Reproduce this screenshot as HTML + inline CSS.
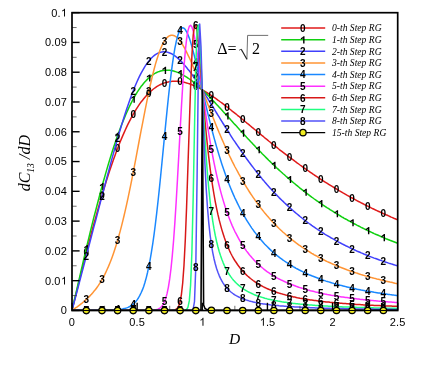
<!DOCTYPE html>
<html><head><meta charset="utf-8"><title>chart</title>
<style>html,body{margin:0;padding:0;background:#fff}svg{display:block;will-change:transform}text{font-family:"Liberation Sans",sans-serif}.s{font-family:"Liberation Serif",serif;font-style:italic}.r{font-family:"Liberation Serif",serif}</style></head>
<body>
<svg width="436" height="388" viewBox="0 0 436 388">
<rect width="436" height="388" fill="#fff"/>
<defs><clipPath id="c"><rect x="72.0" y="12.7" width="325.7" height="298.2"/></clipPath></defs>
<g>
<polyline clip-path="url(#c)" points="72.0,310.4 73.3,305.1 74.6,299.8 75.9,294.5 77.2,289.2 78.5,283.9 79.8,278.6 81.1,273.4 82.4,268.2 83.7,263.0 85.0,257.8 86.3,252.7 87.6,247.6 88.9,242.6 90.2,237.6 91.5,232.7 92.8,227.8 94.1,222.9 95.5,218.2 96.8,213.5 98.1,208.8 99.4,204.2 100.7,199.7 102.0,195.3 103.3,191.0 104.6,186.7 105.9,182.5 107.2,178.3 108.5,174.3 109.8,170.3 111.1,166.5 112.4,162.7 113.7,159.0 115.0,155.4 116.3,151.8 117.6,148.4 118.9,145.0 120.2,141.8 121.5,138.6 122.8,135.6 124.1,132.6 125.4,129.7 126.7,126.9 128.0,124.2 129.3,121.6 130.6,119.1 131.9,116.6 133.2,114.3 134.5,112.1 135.8,109.9 137.1,107.8 138.4,105.8 139.7,103.9 141.0,102.1 142.4,100.4 143.7,98.8 145.0,97.2 146.3,95.7 147.6,94.3 148.9,93.0 150.2,91.8 151.5,90.6 152.8,89.5 154.1,88.5 155.4,87.6 156.7,86.7 158.0,85.9 159.3,85.2 160.6,84.5 161.9,83.9 163.2,83.4 164.5,82.9 165.8,82.5 167.1,82.2 168.4,81.9 169.7,81.6 171.0,81.4 172.3,81.3 173.6,81.2 174.9,81.2 176.2,81.2 177.5,81.3 178.8,81.4 180.1,81.6 181.4,81.8 182.7,82.0 184.0,82.3 185.3,82.6 186.6,83.0 187.9,83.4 189.3,83.8 190.6,84.3 191.9,84.8 193.2,85.3 194.5,85.9 195.8,86.5 197.1,87.1 198.4,87.8 199.7,88.4 201.0,89.1 202.3,89.9 203.6,90.6 204.9,91.4 206.2,92.2 207.5,93.0 208.8,93.8 210.1,94.6 211.4,95.5 212.7,96.4 214.0,97.3 215.3,98.2 216.6,99.1 217.9,100.1 219.2,101.0 220.5,102.0 221.8,102.9 223.1,103.9 224.4,104.9 225.7,105.9 227.0,106.9 228.3,108.0 229.6,109.0 230.9,110.0 232.2,111.1 233.5,112.1 234.8,113.1 236.2,114.2 237.5,115.3 238.8,116.3 240.1,117.4 241.4,118.5 242.7,119.5 244.0,120.6 245.3,121.7 246.6,122.8 247.9,123.8 249.2,124.9 250.5,126.0 251.8,127.1 253.1,128.1 254.4,129.2 255.7,130.3 257.0,131.4 258.3,132.4 259.6,133.5 260.9,134.6 262.2,135.7 263.5,136.7 264.8,137.8 266.1,138.8 267.4,139.9 268.7,141.0 270.0,142.0 271.3,143.1 272.6,144.1 273.9,145.1 275.2,146.2 276.5,147.2 277.8,148.2 279.1,149.3 280.4,150.3 281.8,151.3 283.1,152.3 284.4,153.3 285.7,154.3 287.0,155.3 288.3,156.3 289.6,157.3 290.9,158.3 292.2,159.2 293.5,160.2 294.8,161.2 296.1,162.1 297.4,163.1 298.7,164.0 300.0,165.0 301.3,165.9 302.6,166.8 303.9,167.8 305.2,168.7 306.5,169.6 307.8,170.5 309.1,171.4 310.4,172.3 311.7,173.2 313.0,174.1 314.3,175.0 315.6,175.8 316.9,176.7 318.2,177.6 319.5,178.4 320.8,179.3 322.1,180.1 323.4,181.0 324.7,181.8 326.0,182.6 327.3,183.4 328.7,184.3 330.0,185.1 331.3,185.9 332.6,186.7 333.9,187.5 335.2,188.2 336.5,189.0 337.8,189.8 339.1,190.6 340.4,191.3 341.7,192.1 343.0,192.9 344.3,193.6 345.6,194.3 346.9,195.1 348.2,195.8 349.5,196.5 350.8,197.3 352.1,198.0 353.4,198.7 354.7,199.4 356.0,200.1 357.3,200.8 358.6,201.5 359.9,202.1 361.2,202.8 362.5,203.5 363.8,204.2 365.1,204.8 366.4,205.5 367.7,206.1 369.0,206.8 370.3,207.4 371.6,208.1 372.9,208.7 374.2,209.3 375.6,210.0 376.9,210.6 378.2,211.2 379.5,211.8 380.8,212.4 382.1,213.0 383.4,213.6 384.7,214.2 386.0,214.8 387.3,215.3 388.6,215.9 389.9,216.5 391.2,217.1 392.5,217.6 393.8,218.2 395.1,218.7 396.4,219.3 397.7,219.8" fill="none" stroke="#e01a1a" stroke-width="1.5" stroke-linejoin="round"/>
<g font-size="10.0" font-weight="bold" text-anchor="middle" fill="#000"><text x="86.3" y="256.4">0</text><text x="102.0" y="199.0">0</text><text x="117.6" y="152.1">0</text><text x="133.2" y="118.0">0</text><text x="148.9" y="96.7">0</text><text x="164.5" y="86.6">0</text><text x="180.1" y="85.3">0</text><text x="195.8" y="90.2">0</text><text x="211.4" y="99.2">0</text><text x="227.0" y="110.6">0</text><text x="242.7" y="123.2">0</text><text x="258.3" y="136.1">0</text><text x="273.9" y="148.8">0</text><text x="289.6" y="161.0">0</text><text x="305.2" y="172.4">0</text><text x="320.8" y="183.0">0</text><text x="336.5" y="192.7">0</text><text x="352.1" y="201.7">0</text><text x="367.7" y="209.8">0</text><text x="383.4" y="217.3">0</text></g>
<polyline clip-path="url(#c)" points="72.0,310.4 73.3,304.7 74.6,299.0 75.9,293.3 77.2,287.7 78.5,282.0 79.8,276.3 81.1,270.7 82.4,265.1 83.7,259.5 85.0,254.0 86.3,248.5 87.6,243.0 88.9,237.6 90.2,232.2 91.5,226.9 92.8,221.6 94.1,216.4 95.5,211.3 96.8,206.2 98.1,201.2 99.4,196.2 100.7,191.3 102.0,186.5 103.3,181.8 104.6,177.2 105.9,172.6 107.2,168.1 108.5,163.7 109.8,159.4 111.1,155.2 112.4,151.1 113.7,147.1 115.0,143.2 116.3,139.3 117.6,135.6 118.9,132.0 120.2,128.5 121.5,125.1 122.8,121.8 124.1,118.6 125.4,115.5 126.7,112.5 128.0,109.6 129.3,106.8 130.6,104.1 131.9,101.6 133.2,99.1 134.5,96.8 135.8,94.5 137.1,92.4 138.4,90.4 139.7,88.5 141.0,86.6 142.4,84.9 143.7,83.3 145.0,81.8 146.3,80.4 147.6,79.1 148.9,77.9 150.2,76.7 151.5,75.7 152.8,74.8 154.1,73.9 155.4,73.2 156.7,72.5 158.0,71.9 159.3,71.5 160.6,71.0 161.9,70.7 163.2,70.5 164.5,70.3 165.8,70.2 167.1,70.2 168.4,70.2 169.7,70.3 171.0,70.5 172.3,70.8 173.6,71.1 174.9,71.4 176.2,71.9 177.5,72.4 178.8,72.9 180.1,73.5 181.4,74.1 182.7,74.8 184.0,75.6 185.3,76.4 186.6,77.2 187.9,78.0 189.3,79.0 190.6,79.9 191.9,80.9 193.2,81.9 194.5,83.0 195.8,84.0 197.1,85.1 198.4,86.3 199.7,87.5 201.0,88.6 202.3,89.9 203.6,91.1 204.9,92.4 206.2,93.6 207.5,94.9 208.8,96.2 210.1,97.6 211.4,98.9 212.7,100.3 214.0,101.6 215.3,103.0 216.6,104.4 217.9,105.8 219.2,107.2 220.5,108.6 221.8,110.0 223.1,111.5 224.4,112.9 225.7,114.3 227.0,115.8 228.3,117.2 229.6,118.6 230.9,120.1 232.2,121.5 233.5,123.0 234.8,124.4 236.2,125.8 237.5,127.3 238.8,128.7 240.1,130.2 241.4,131.6 242.7,133.0 244.0,134.4 245.3,135.8 246.6,137.3 247.9,138.7 249.2,140.1 250.5,141.5 251.8,142.8 253.1,144.2 254.4,145.6 255.7,147.0 257.0,148.3 258.3,149.7 259.6,151.0 260.9,152.3 262.2,153.7 263.5,155.0 264.8,156.3 266.1,157.6 267.4,158.9 268.7,160.2 270.0,161.4 271.3,162.7 272.6,164.0 273.9,165.2 275.2,166.4 276.5,167.7 277.8,168.9 279.1,170.1 280.4,171.3 281.8,172.5 283.1,173.7 284.4,174.8 285.7,176.0 287.0,177.1 288.3,178.3 289.6,179.4 290.9,180.5 292.2,181.6 293.5,182.7 294.8,183.8 296.1,184.9 297.4,185.9 298.7,187.0 300.0,188.1 301.3,189.1 302.6,190.1 303.9,191.1 305.2,192.2 306.5,193.2 307.8,194.1 309.1,195.1 310.4,196.1 311.7,197.1 313.0,198.0 314.3,199.0 315.6,199.9 316.9,200.8 318.2,201.7 319.5,202.6 320.8,203.5 322.1,204.4 323.4,205.3 324.7,206.2 326.0,207.0 327.3,207.9 328.7,208.7 330.0,209.6 331.3,210.4 332.6,211.2 333.9,212.0 335.2,212.9 336.5,213.7 337.8,214.4 339.1,215.2 340.4,216.0 341.7,216.8 343.0,217.5 344.3,218.3 345.6,219.0 346.9,219.7 348.2,220.5 349.5,221.2 350.8,221.9 352.1,222.6 353.4,223.3 354.7,224.0 356.0,224.7 357.3,225.4 358.6,226.0 359.9,226.7 361.2,227.4 362.5,228.0 363.8,228.6 365.1,229.3 366.4,229.9 367.7,230.5 369.0,231.2 370.3,231.8 371.6,232.4 372.9,233.0 374.2,233.6 375.6,234.2 376.9,234.7 378.2,235.3 379.5,235.9 380.8,236.5 382.1,237.0 383.4,237.6 384.7,238.1 386.0,238.7 387.3,239.2 388.6,239.7 389.9,240.3 391.2,240.8 392.5,241.3 393.8,241.8 395.1,242.3 396.4,242.8 397.7,243.3" fill="none" stroke="#10d010" stroke-width="1.5" stroke-linejoin="round"/>
<g font-size="10.0" font-weight="bold" text-anchor="middle" fill="#000"><path transform="translate(83.55 252.18) scale(10.00 -10.00)" d="M.44 0H.3V.525Q.22 .455 .075 .405V.53Q.15 .555 .235 .62Q.32 .69 .35 .716H.44Z"/><path transform="translate(99.18 190.23) scale(10.00 -10.00)" d="M.44 0H.3V.525Q.22 .455 .075 .405V.53Q.15 .555 .235 .62Q.32 .69 .35 .716H.44Z"/><path transform="translate(114.82 139.33) scale(10.00 -10.00)" d="M.44 0H.3V.525Q.22 .455 .075 .405V.53Q.15 .555 .235 .62Q.32 .69 .35 .716H.44Z"/><path transform="translate(130.45 102.82) scale(10.00 -10.00)" d="M.44 0H.3V.525Q.22 .455 .075 .405V.53Q.15 .555 .235 .62Q.32 .69 .35 .716H.44Z"/><path transform="translate(146.09 81.55) scale(10.00 -10.00)" d="M.44 0H.3V.525Q.22 .455 .075 .405V.53Q.15 .555 .235 .62Q.32 .69 .35 .716H.44Z"/><path transform="translate(161.72 74.00) scale(10.00 -10.00)" d="M.44 0H.3V.525Q.22 .455 .075 .405V.53Q.15 .555 .235 .62Q.32 .69 .35 .716H.44Z"/><path transform="translate(177.35 77.19) scale(10.00 -10.00)" d="M.44 0H.3V.525Q.22 .455 .075 .405V.53Q.15 .555 .235 .62Q.32 .69 .35 .716H.44Z"/><path transform="translate(192.99 87.74) scale(10.00 -10.00)" d="M.44 0H.3V.525Q.22 .455 .075 .405V.53Q.15 .555 .235 .62Q.32 .69 .35 .716H.44Z"/><path transform="translate(208.62 102.60) scale(10.00 -10.00)" d="M.44 0H.3V.525Q.22 .455 .075 .405V.53Q.15 .555 .235 .62Q.32 .69 .35 .716H.44Z"/><path transform="translate(224.25 119.46) scale(10.00 -10.00)" d="M.44 0H.3V.525Q.22 .455 .075 .405V.53Q.15 .555 .235 .62Q.32 .69 .35 .716H.44Z"/><path transform="translate(239.89 136.71) scale(10.00 -10.00)" d="M.44 0H.3V.525Q.22 .455 .075 .405V.53Q.15 .555 .235 .62Q.32 .69 .35 .716H.44Z"/><path transform="translate(255.52 153.37) scale(10.00 -10.00)" d="M.44 0H.3V.525Q.22 .455 .075 .405V.53Q.15 .555 .235 .62Q.32 .69 .35 .716H.44Z"/><path transform="translate(271.15 168.91) scale(10.00 -10.00)" d="M.44 0H.3V.525Q.22 .455 .075 .405V.53Q.15 .555 .235 .62Q.32 .69 .35 .716H.44Z"/><path transform="translate(286.79 183.09) scale(10.00 -10.00)" d="M.44 0H.3V.525Q.22 .455 .075 .405V.53Q.15 .555 .235 .62Q.32 .69 .35 .716H.44Z"/><path transform="translate(302.42 195.85) scale(10.00 -10.00)" d="M.44 0H.3V.525Q.22 .455 .075 .405V.53Q.15 .555 .235 .62Q.32 .69 .35 .716H.44Z"/><path transform="translate(318.05 207.24) scale(10.00 -10.00)" d="M.44 0H.3V.525Q.22 .455 .075 .405V.53Q.15 .555 .235 .62Q.32 .69 .35 .716H.44Z"/><path transform="translate(333.69 217.35) scale(10.00 -10.00)" d="M.44 0H.3V.525Q.22 .455 .075 .405V.53Q.15 .555 .235 .62Q.32 .69 .35 .716H.44Z"/><path transform="translate(349.32 226.31) scale(10.00 -10.00)" d="M.44 0H.3V.525Q.22 .455 .075 .405V.53Q.15 .555 .235 .62Q.32 .69 .35 .716H.44Z"/><path transform="translate(364.96 234.24) scale(10.00 -10.00)" d="M.44 0H.3V.525Q.22 .455 .075 .405V.53Q.15 .555 .235 .62Q.32 .69 .35 .716H.44Z"/><path transform="translate(380.59 241.27) scale(10.00 -10.00)" d="M.44 0H.3V.525Q.22 .455 .075 .405V.53Q.15 .555 .235 .62Q.32 .69 .35 .716H.44Z"/></g>
<polyline clip-path="url(#c)" points="72.0,310.4 73.3,305.5 74.6,300.6 75.9,295.7 77.2,290.7 78.5,285.8 79.8,280.8 81.1,275.9 82.4,270.9 83.7,266.0 85.0,261.0 86.3,256.1 87.6,251.1 88.9,246.1 90.2,241.1 91.5,236.1 92.8,231.1 94.1,226.1 95.5,221.1 96.8,216.1 98.1,211.1 99.4,206.1 100.7,201.1 102.0,196.2 103.3,191.2 104.6,186.2 105.9,181.3 107.2,176.4 108.5,171.6 109.8,166.7 111.1,161.9 112.4,157.1 113.7,152.4 115.0,147.8 116.3,143.2 117.6,138.6 118.9,134.1 120.2,129.7 121.5,125.4 122.8,121.2 124.1,117.0 125.4,113.0 126.7,109.0 128.0,105.2 129.3,101.4 130.6,97.8 131.9,94.3 133.2,90.9 134.5,87.6 135.8,84.5 137.1,81.5 138.4,78.6 139.7,75.9 141.0,73.3 142.4,70.9 143.7,68.6 145.0,66.4 146.3,64.4 147.6,62.6 148.9,60.9 150.2,59.4 151.5,58.0 152.8,56.7 154.1,55.6 155.4,54.6 156.7,53.8 158.0,53.1 159.3,52.6 160.6,52.2 161.9,51.9 163.2,51.8 164.5,51.8 165.8,51.9 167.1,52.1 168.4,52.5 169.7,53.0 171.0,53.5 172.3,54.2 173.6,55.0 174.9,55.9 176.2,56.9 177.5,57.9 178.8,59.1 180.1,60.3 181.4,61.6 182.7,63.0 184.0,64.4 185.3,66.0 186.6,67.5 187.9,69.2 189.3,70.8 190.6,72.6 191.9,74.4 193.2,76.2 194.5,78.0 195.8,79.9 197.1,81.9 198.4,83.8 199.7,85.8 201.0,87.8 202.3,89.9 203.6,91.9 204.9,94.0 206.2,96.1 207.5,98.2 208.8,100.3 210.1,102.4 211.4,104.5 212.7,106.6 214.0,108.7 215.3,110.8 216.6,113.0 217.9,115.1 219.2,117.2 220.5,119.3 221.8,121.4 223.1,123.5 224.4,125.5 225.7,127.6 227.0,129.7 228.3,131.7 229.6,133.7 230.9,135.8 232.2,137.8 233.5,139.8 234.8,141.7 236.2,143.7 237.5,145.6 238.8,147.5 240.1,149.4 241.4,151.3 242.7,153.2 244.0,155.1 245.3,156.9 246.6,158.7 247.9,160.5 249.2,162.3 250.5,164.0 251.8,165.7 253.1,167.4 254.4,169.1 255.7,170.8 257.0,172.5 258.3,174.1 259.6,175.7 260.9,177.3 262.2,178.9 263.5,180.4 264.8,182.0 266.1,183.5 267.4,185.0 268.7,186.4 270.0,187.9 271.3,189.3 272.6,190.8 273.9,192.2 275.2,193.5 276.5,194.9 277.8,196.2 279.1,197.6 280.4,198.9 281.8,200.2 283.1,201.4 284.4,202.7 285.7,203.9 287.0,205.2 288.3,206.4 289.6,207.5 290.9,208.7 292.2,209.9 293.5,211.0 294.8,212.1 296.1,213.2 297.4,214.3 298.7,215.4 300.0,216.5 301.3,217.5 302.6,218.5 303.9,219.6 305.2,220.6 306.5,221.6 307.8,222.5 309.1,223.5 310.4,224.4 311.7,225.4 313.0,226.3 314.3,227.2 315.6,228.1 316.9,229.0 318.2,229.9 319.5,230.7 320.8,231.6 322.1,232.4 323.4,233.2 324.7,234.1 326.0,234.9 327.3,235.6 328.7,236.4 330.0,237.2 331.3,238.0 332.6,238.7 333.9,239.4 335.2,240.2 336.5,240.9 337.8,241.6 339.1,242.3 340.4,243.0 341.7,243.7 343.0,244.3 344.3,245.0 345.6,245.7 346.9,246.3 348.2,246.9 349.5,247.6 350.8,248.2 352.1,248.8 353.4,249.4 354.7,250.0 356.0,250.6 357.3,251.2 358.6,251.7 359.9,252.3 361.2,252.9 362.5,253.4 363.8,254.0 365.1,254.5 366.4,255.0 367.7,255.5 369.0,256.1 370.3,256.6 371.6,257.1 372.9,257.6 374.2,258.1 375.6,258.5 376.9,259.0 378.2,259.5 379.5,260.0 380.8,260.4 382.1,260.9 383.4,261.3 384.7,261.8 386.0,262.2 387.3,262.6 388.6,263.1 389.9,263.5 391.2,263.9 392.5,264.3 393.8,264.7 395.1,265.1 396.4,265.5 397.7,265.9" fill="none" stroke="#4040fc" stroke-width="1.5" stroke-linejoin="round"/>
<g font-size="10.0" font-weight="bold" text-anchor="middle" fill="#000"><text x="86.3" y="259.8">2</text><text x="102.0" y="199.9">2</text><text x="117.6" y="142.3">2</text><text x="133.2" y="94.6">2</text><text x="148.9" y="64.6">2</text><text x="164.5" y="55.5">2</text><text x="180.1" y="64.0">2</text><text x="195.8" y="83.6">2</text><text x="211.4" y="108.2">2</text><text x="227.0" y="133.4">2</text><text x="242.7" y="156.9">2</text><text x="258.3" y="177.8">2</text><text x="273.9" y="195.9">2</text><text x="289.6" y="211.2">2</text><text x="305.2" y="224.3">2</text><text x="320.8" y="235.3">2</text><text x="336.5" y="244.6">2</text><text x="352.1" y="252.5">2</text><text x="367.7" y="259.2">2</text><text x="383.4" y="265.0">2</text></g>
<polyline clip-path="url(#c)" points="72.0,310.4 73.3,309.5 74.6,308.6 75.9,307.7 77.2,306.8 78.5,305.8 79.8,304.8 81.1,303.8 82.4,302.8 83.7,301.7 85.0,300.6 86.3,299.4 87.6,298.2 88.9,296.9 90.2,295.6 91.5,294.2 92.8,292.7 94.1,291.1 95.5,289.5 96.8,287.7 98.1,285.9 99.4,283.9 100.7,281.8 102.0,279.6 103.3,277.3 104.6,274.8 105.9,272.1 107.2,269.3 108.5,266.4 109.8,263.2 111.1,259.9 112.4,256.4 113.7,252.7 115.0,248.8 116.3,244.7 117.6,240.3 118.9,235.8 120.2,231.1 121.5,226.1 122.8,220.9 124.1,215.5 125.4,209.9 126.7,204.1 128.0,198.1 129.3,191.9 130.6,185.6 131.9,179.1 133.2,172.4 134.5,165.7 135.8,158.8 137.1,151.9 138.4,145.0 139.7,138.0 141.0,131.1 142.4,124.2 143.7,117.4 145.0,110.7 146.3,104.1 147.6,97.7 148.9,91.5 150.2,85.5 151.5,79.8 152.8,74.4 154.1,69.2 155.4,64.4 156.7,60.0 158.0,55.9 159.3,52.1 160.6,48.7 161.9,45.7 163.2,43.1 164.5,40.9 165.8,39.0 167.1,37.6 168.4,36.4 169.7,35.7 171.0,35.3 172.3,35.2 173.6,35.5 174.9,36.0 176.2,36.9 177.5,38.0 178.8,39.4 180.1,41.0 181.4,42.8 182.7,44.9 184.0,47.1 185.3,49.5 186.6,52.1 187.9,54.8 189.3,57.6 190.6,60.5 191.9,63.5 193.2,66.7 194.5,69.8 195.8,73.1 197.1,76.4 198.4,79.7 199.7,83.1 201.0,86.5 202.3,89.9 203.6,93.3 204.9,96.7 206.2,100.1 207.5,103.5 208.8,106.8 210.1,110.2 211.4,113.5 212.7,116.8 214.0,120.1 215.3,123.3 216.6,126.5 217.9,129.6 219.2,132.8 220.5,135.8 221.8,138.9 223.1,141.8 224.4,144.8 225.7,147.6 227.0,150.5 228.3,153.3 229.6,156.0 230.9,158.7 232.2,161.4 233.5,163.9 234.8,166.5 236.2,169.0 237.5,171.4 238.8,173.9 240.1,176.2 241.4,178.5 242.7,180.8 244.0,183.0 245.3,185.2 246.6,187.3 247.9,189.4 249.2,191.5 250.5,193.5 251.8,195.4 253.1,197.3 254.4,199.2 255.7,201.1 257.0,202.9 258.3,204.7 259.6,206.4 260.9,208.1 262.2,209.7 263.5,211.4 264.8,213.0 266.1,214.5 267.4,216.1 268.7,217.6 270.0,219.0 271.3,220.5 272.6,221.9 273.9,223.3 275.2,224.6 276.5,225.9 277.8,227.2 279.1,228.5 280.4,229.7 281.8,231.0 283.1,232.2 284.4,233.3 285.7,234.5 287.0,235.6 288.3,236.7 289.6,237.8 290.9,238.8 292.2,239.9 293.5,240.9 294.8,241.9 296.1,242.9 297.4,243.8 298.7,244.8 300.0,245.7 301.3,246.6 302.6,247.5 303.9,248.4 305.2,249.2 306.5,250.1 307.8,250.9 309.1,251.7 310.4,252.5 311.7,253.3 313.0,254.0 314.3,254.8 315.6,255.5 316.9,256.2 318.2,257.0 319.5,257.6 320.8,258.3 322.1,259.0 323.4,259.7 324.7,260.3 326.0,261.0 327.3,261.6 328.7,262.2 330.0,262.8 331.3,263.4 332.6,264.0 333.9,264.5 335.2,265.1 336.5,265.7 337.8,266.2 339.1,266.7 340.4,267.3 341.7,267.8 343.0,268.3 344.3,268.8 345.6,269.3 346.9,269.8 348.2,270.2 349.5,270.7 350.8,271.2 352.1,271.6 353.4,272.1 354.7,272.5 356.0,272.9 357.3,273.3 358.6,273.8 359.9,274.2 361.2,274.6 362.5,275.0 363.8,275.4 365.1,275.8 366.4,276.1 367.7,276.5 369.0,276.9 370.3,277.2 371.6,277.6 372.9,277.9 374.2,278.3 375.6,278.6 376.9,279.0 378.2,279.3 379.5,279.6 380.8,279.9 382.1,280.3 383.4,280.6 384.7,280.9 386.0,281.2 387.3,281.5 388.6,281.8 389.9,282.1 391.2,282.3 392.5,282.6 393.8,282.9 395.1,283.2 396.4,283.4 397.7,283.7" fill="none" stroke="#ff9434" stroke-width="1.5" stroke-linejoin="round"/>
<g font-size="10.0" font-weight="bold" text-anchor="middle" fill="#000"><text x="86.3" y="303.1">3</text><text x="102.0" y="283.3">3</text><text x="117.6" y="244.0">3</text><text x="133.2" y="176.1">3</text><text x="148.9" y="95.2">3</text><text x="164.5" y="44.6">3</text><text x="180.1" y="44.7">3</text><text x="195.8" y="76.8">3</text><text x="211.4" y="117.2">3</text><text x="227.0" y="154.2">3</text><text x="242.7" y="184.5">3</text><text x="258.3" y="208.4">3</text><text x="273.9" y="227.0">3</text><text x="289.6" y="241.5">3</text><text x="305.2" y="252.9">3</text><text x="320.8" y="262.0">3</text><text x="336.5" y="269.4">3</text><text x="352.1" y="275.3">3</text><text x="367.7" y="280.2">3</text><text x="383.4" y="284.3">3</text></g>
<polyline clip-path="url(#c)" points="72.0,310.4 73.3,310.4 74.6,310.4 75.9,310.4 77.2,310.4 78.5,310.4 79.8,310.4 81.1,310.4 82.4,310.4 83.7,310.4 85.0,310.4 86.3,310.4 87.6,310.4 88.9,310.4 90.2,310.4 91.5,310.4 92.8,310.4 94.1,310.4 95.5,310.4 96.8,310.4 98.1,310.4 99.4,310.4 100.7,310.4 102.0,310.3 103.3,310.3 104.6,310.3 105.9,310.3 107.2,310.3 108.5,310.2 109.8,310.2 111.1,310.1 112.4,310.1 113.7,310.0 115.0,309.9 116.3,309.8 117.6,309.7 118.9,309.6 120.2,309.4 121.5,309.2 122.8,308.9 124.1,308.6 125.4,308.3 126.7,307.9 128.0,307.4 129.3,306.8 130.6,306.0 131.9,305.2 133.2,304.2 134.5,303.0 135.8,301.6 137.1,299.9 138.4,298.0 139.7,295.7 141.0,293.0 142.4,289.9 143.7,286.4 145.0,282.3 146.3,277.6 147.6,272.2 148.9,266.1 150.2,259.3 151.5,251.7 152.8,243.3 154.1,234.1 155.4,224.0 156.7,213.1 158.0,201.5 159.3,189.3 160.6,176.5 161.9,163.3 163.2,149.9 164.5,136.4 165.8,123.1 167.1,110.1 168.4,97.5 169.7,85.7 171.0,74.8 172.3,64.8 173.6,55.9 174.9,48.2 176.2,41.8 177.5,36.6 178.8,32.7 180.1,29.9 181.4,28.3 182.7,27.8 184.0,28.2 185.3,29.6 186.6,31.8 187.9,34.6 189.3,38.1 190.6,42.1 191.9,46.6 193.2,51.4 194.5,56.5 195.8,61.8 197.1,67.2 198.4,72.8 199.7,78.5 201.0,84.2 202.3,89.9 203.6,95.5 204.9,101.1 206.2,106.6 207.5,112.1 208.8,117.4 210.1,122.6 211.4,127.7 212.7,132.7 214.0,137.6 215.3,142.3 216.6,146.9 217.9,151.3 219.2,155.6 220.5,159.8 221.8,163.9 223.1,167.8 224.4,171.6 225.7,175.3 227.0,178.8 228.3,182.3 229.6,185.6 230.9,188.8 232.2,191.9 233.5,194.9 234.8,197.8 236.2,200.7 237.5,203.4 238.8,206.0 240.1,208.6 241.4,211.0 242.7,213.4 244.0,215.7 245.3,217.9 246.6,220.1 247.9,222.2 249.2,224.2 250.5,226.2 251.8,228.1 253.1,229.9 254.4,231.7 255.7,233.4 257.0,235.1 258.3,236.7 259.6,238.3 260.9,239.8 262.2,241.3 263.5,242.8 264.8,244.2 266.1,245.5 267.4,246.8 268.7,248.1 270.0,249.4 271.3,250.6 272.6,251.7 273.9,252.9 275.2,254.0 276.5,255.1 277.8,256.1 279.1,257.1 280.4,258.1 281.8,259.1 283.1,260.1 284.4,261.0 285.7,261.9 287.0,262.7 288.3,263.6 289.6,264.4 290.9,265.2 292.2,266.0 293.5,266.8 294.8,267.5 296.1,268.3 297.4,269.0 298.7,269.7 300.0,270.3 301.3,271.0 302.6,271.6 303.9,272.3 305.2,272.9 306.5,273.5 307.8,274.1 309.1,274.7 310.4,275.2 311.7,275.8 313.0,276.3 314.3,276.8 315.6,277.3 316.9,277.8 318.2,278.3 319.5,278.8 320.8,279.3 322.1,279.7 323.4,280.2 324.7,280.6 326.0,281.1 327.3,281.5 328.7,281.9 330.0,282.3 331.3,282.7 332.6,283.1 333.9,283.5 335.2,283.8 336.5,284.2 337.8,284.6 339.1,284.9 340.4,285.3 341.7,285.6 343.0,285.9 344.3,286.2 345.6,286.6 346.9,286.9 348.2,287.2 349.5,287.5 350.8,287.8 352.1,288.1 353.4,288.4 354.7,288.6 356.0,288.9 357.3,289.2 358.6,289.4 359.9,289.7 361.2,290.0 362.5,290.2 363.8,290.4 365.1,290.7 366.4,290.9 367.7,291.2 369.0,291.4 370.3,291.6 371.6,291.8 372.9,292.0 374.2,292.3 375.6,292.5 376.9,292.7 378.2,292.9 379.5,293.1 380.8,293.3 382.1,293.5 383.4,293.7 384.7,293.8 386.0,294.0 387.3,294.2 388.6,294.4 389.9,294.6 391.2,294.7 392.5,294.9 393.8,295.1 395.1,295.2 396.4,295.4 397.7,295.6" fill="none" stroke="#1a88ff" stroke-width="1.5" stroke-linejoin="round"/>
<g font-size="10.0" font-weight="bold" text-anchor="middle" fill="#000"><text x="86.3" y="314.1">4</text><text x="102.0" y="314.0">4</text><text x="117.6" y="313.4">4</text><text x="133.2" y="307.9">4</text><text x="148.9" y="269.8">4</text><text x="164.5" y="140.1">4</text><text x="180.1" y="33.6">4</text><text x="195.8" y="65.5">4</text><text x="211.4" y="131.4">4</text><text x="227.0" y="182.5">4</text><text x="242.7" y="217.1">4</text><text x="258.3" y="240.4">4</text><text x="273.9" y="256.6">4</text><text x="289.6" y="268.1">4</text><text x="305.2" y="276.6">4</text><text x="320.8" y="283.0">4</text><text x="336.5" y="287.9">4</text><text x="352.1" y="291.8">4</text><text x="367.7" y="294.9">4</text><text x="383.4" y="297.4">4</text></g>
<polyline clip-path="url(#c)" points="72.0,310.4 73.3,310.4 74.6,310.4 75.9,310.4 77.2,310.4 78.5,310.4 79.8,310.4 81.1,310.4 82.4,310.4 83.7,310.4 85.0,310.4 86.3,310.4 87.6,310.4 88.9,310.4 90.2,310.4 91.5,310.4 92.8,310.4 94.1,310.4 95.5,310.4 96.8,310.4 98.1,310.4 99.4,310.4 100.7,310.4 102.0,310.4 103.3,310.4 104.6,310.4 105.9,310.4 107.2,310.4 108.5,310.4 109.8,310.4 111.1,310.4 112.4,310.4 113.7,310.4 115.0,310.4 116.3,310.4 117.6,310.4 118.9,310.4 120.2,310.4 121.5,310.4 122.8,310.4 124.1,310.4 125.4,310.4 126.7,310.4 128.0,310.4 129.3,310.4 130.6,310.4 131.9,310.4 133.2,310.4 134.5,310.4 135.8,310.4 137.1,310.4 138.4,310.4 139.7,310.4 141.0,310.4 142.4,310.4 143.7,310.4 145.0,310.4 146.3,310.4 147.6,310.4 148.9,310.4 150.2,310.3 151.5,310.3 152.8,310.2 154.1,310.1 155.4,309.9 156.7,309.6 158.0,309.1 159.3,308.5 160.6,307.5 161.9,306.2 163.2,304.3 164.5,301.7 165.8,298.1 167.1,293.4 168.4,287.1 169.7,278.9 171.0,268.5 172.3,255.7 173.6,240.2 174.9,222.1 176.2,201.5 177.5,178.9 178.8,155.1 180.1,130.9 181.4,107.4 182.7,85.7 184.0,66.7 185.3,51.0 186.6,39.1 187.9,30.9 189.3,26.4 190.6,25.2 191.9,26.9 193.2,30.9 194.5,36.9 195.8,44.2 197.1,52.5 198.4,61.5 199.7,70.8 201.0,80.3 202.3,89.9 203.6,99.2 204.9,108.4 206.2,117.2 207.5,125.7 208.8,133.8 210.1,141.6 211.4,149.0 212.7,156.0 214.0,162.6 215.3,168.9 216.6,174.9 217.9,180.5 219.2,185.8 220.5,190.9 221.8,195.6 223.1,200.1 224.4,204.4 225.7,208.4 227.0,212.2 228.3,215.8 229.6,219.2 230.9,222.5 232.2,225.6 233.5,228.5 234.8,231.3 236.2,233.9 237.5,236.4 238.8,238.8 240.1,241.1 241.4,243.3 242.7,245.4 244.0,247.4 245.3,249.3 246.6,251.1 247.9,252.8 249.2,254.5 250.5,256.1 251.8,257.6 253.1,259.0 254.4,260.4 255.7,261.8 257.0,263.1 258.3,264.3 259.6,265.5 260.9,266.6 262.2,267.7 263.5,268.8 264.8,269.8 266.1,270.8 267.4,271.8 268.7,272.7 270.0,273.6 271.3,274.4 272.6,275.2 273.9,276.0 275.2,276.8 276.5,277.6 277.8,278.3 279.1,279.0 280.4,279.6 281.8,280.3 283.1,280.9 284.4,281.5 285.7,282.1 287.0,282.7 288.3,283.3 289.6,283.8 290.9,284.3 292.2,284.8 293.5,285.3 294.8,285.8 296.1,286.3 297.4,286.7 298.7,287.2 300.0,287.6 301.3,288.0 302.6,288.4 303.9,288.8 305.2,289.2 306.5,289.6 307.8,290.0 309.1,290.3 310.4,290.7 311.7,291.0 313.0,291.3 314.3,291.6 315.6,292.0 316.9,292.3 318.2,292.6 319.5,292.9 320.8,293.1 322.1,293.4 323.4,293.7 324.7,294.0 326.0,294.2 327.3,294.5 328.7,294.7 330.0,294.9 331.3,295.2 332.6,295.4 333.9,295.6 335.2,295.9 336.5,296.1 337.8,296.3 339.1,296.5 340.4,296.7 341.7,296.9 343.0,297.1 344.3,297.3 345.6,297.5 346.9,297.6 348.2,297.8 349.5,298.0 350.8,298.2 352.1,298.3 353.4,298.5 354.7,298.6 356.0,298.8 357.3,299.0 358.6,299.1 359.9,299.3 361.2,299.4 362.5,299.5 363.8,299.7 365.1,299.8 366.4,300.0 367.7,300.1 369.0,300.2 370.3,300.3 371.6,300.5 372.9,300.6 374.2,300.7 375.6,300.8 376.9,300.9 378.2,301.1 379.5,301.2 380.8,301.3 382.1,301.4 383.4,301.5 384.7,301.6 386.0,301.7 387.3,301.8 388.6,301.9 389.9,302.0 391.2,302.1 392.5,302.2 393.8,302.3 395.1,302.4 396.4,302.5 397.7,302.6" fill="none" stroke="#ff30ff" stroke-width="1.5" stroke-linejoin="round"/>
<g font-size="10.0" font-weight="bold" text-anchor="middle" fill="#000"><text x="86.3" y="314.1">5</text><text x="102.0" y="314.1">5</text><text x="117.6" y="314.1">5</text><text x="133.2" y="314.1">5</text><text x="148.9" y="314.1">5</text><text x="164.5" y="305.4">5</text><text x="180.1" y="134.6">5</text><text x="195.8" y="47.9">5</text><text x="211.4" y="152.7">5</text><text x="227.0" y="215.9">5</text><text x="242.7" y="249.1">5</text><text x="258.3" y="268.0">5</text><text x="273.9" y="279.7">5</text><text x="289.6" y="287.5">5</text><text x="305.2" y="292.9">5</text><text x="320.8" y="296.8">5</text><text x="336.5" y="299.8">5</text><text x="352.1" y="302.0">5</text><text x="367.7" y="303.8">5</text><text x="383.4" y="305.2">5</text></g>
<polyline clip-path="url(#c)" points="72.0,310.4 73.3,310.4 74.6,310.4 75.9,310.4 77.2,310.4 78.5,310.4 79.8,310.4 81.1,310.4 82.4,310.4 83.7,310.4 85.0,310.4 86.3,310.4 87.6,310.4 88.9,310.4 90.2,310.4 91.5,310.4 92.8,310.4 94.1,310.4 95.5,310.4 96.8,310.4 98.1,310.4 99.4,310.4 100.7,310.4 102.0,310.4 103.3,310.4 104.6,310.4 105.9,310.4 107.2,310.4 108.5,310.4 109.8,310.4 111.1,310.4 112.4,310.4 113.7,310.4 115.0,310.4 116.3,310.4 117.6,310.4 118.9,310.4 120.2,310.4 121.5,310.4 122.8,310.4 124.1,310.4 125.4,310.4 126.7,310.4 128.0,310.4 129.3,310.4 130.6,310.4 131.9,310.4 133.2,310.4 134.5,310.4 135.8,310.4 137.1,310.4 138.4,310.4 139.7,310.4 141.0,310.4 142.4,310.4 143.7,310.4 145.0,310.4 146.3,310.4 147.6,310.4 148.9,310.4 150.2,310.4 151.5,310.4 152.8,310.4 154.1,310.4 155.4,310.4 156.7,310.4 158.0,310.4 159.3,310.4 160.6,310.4 161.9,310.4 163.2,310.4 164.5,310.4 165.8,310.4 167.1,310.4 168.4,310.4 169.7,310.4 171.0,310.4 172.3,310.3 173.6,310.2 174.9,309.9 176.2,309.3 177.5,308.1 178.8,305.8 180.1,301.7 181.4,294.6 182.7,283.0 184.0,265.2 185.3,239.8 186.6,206.7 187.9,167.4 189.3,125.8 190.6,87.1 191.9,56.0 193.2,35.3 194.5,25.6 195.8,25.3 197.1,32.1 198.4,43.8 199.7,58.3 201.0,74.0 202.3,89.9 203.6,105.3 204.9,120.0 206.2,133.6 207.5,146.2 208.8,157.7 210.1,168.3 211.4,177.9 212.7,186.6 214.0,194.5 215.3,201.8 216.6,208.3 217.9,214.4 219.2,219.9 220.5,224.9 221.8,229.6 223.1,233.8 224.4,237.8 225.7,241.4 227.0,244.8 228.3,247.9 229.6,250.8 230.9,253.5 232.2,256.0 233.5,258.3 234.8,260.5 236.2,262.5 237.5,264.5 238.8,266.3 240.1,268.0 241.4,269.6 242.7,271.1 244.0,272.5 245.3,273.8 246.6,275.1 247.9,276.3 249.2,277.4 250.5,278.5 251.8,279.5 253.1,280.5 254.4,281.4 255.7,282.3 257.0,283.2 258.3,284.0 259.6,284.8 260.9,285.5 262.2,286.2 263.5,286.9 264.8,287.5 266.1,288.1 267.4,288.7 268.7,289.3 270.0,289.8 271.3,290.4 272.6,290.9 273.9,291.3 275.2,291.8 276.5,292.3 277.8,292.7 279.1,293.1 280.4,293.5 281.8,293.9 283.1,294.3 284.4,294.6 285.7,295.0 287.0,295.3 288.3,295.7 289.6,296.0 290.9,296.3 292.2,296.6 293.5,296.9 294.8,297.1 296.1,297.4 297.4,297.7 298.7,297.9 300.0,298.2 301.3,298.4 302.6,298.6 303.9,298.9 305.2,299.1 306.5,299.3 307.8,299.5 309.1,299.7 310.4,299.9 311.7,300.1 313.0,300.3 314.3,300.5 315.6,300.6 316.9,300.8 318.2,301.0 319.5,301.1 320.8,301.3 322.1,301.4 323.4,301.6 324.7,301.7 326.0,301.9 327.3,302.0 328.7,302.1 330.0,302.3 331.3,302.4 332.6,302.5 333.9,302.7 335.2,302.8 336.5,302.9 337.8,303.0 339.1,303.1 340.4,303.2 341.7,303.3 343.0,303.4 344.3,303.5 345.6,303.6 346.9,303.7 348.2,303.8 349.5,303.9 350.8,304.0 352.1,304.1 353.4,304.2 354.7,304.3 356.0,304.4 357.3,304.5 358.6,304.5 359.9,304.6 361.2,304.7 362.5,304.8 363.8,304.9 365.1,304.9 366.4,305.0 367.7,305.1 369.0,305.1 370.3,305.2 371.6,305.3 372.9,305.3 374.2,305.4 375.6,305.5 376.9,305.5 378.2,305.6 379.5,305.6 380.8,305.7 382.1,305.8 383.4,305.8 384.7,305.9 386.0,305.9 387.3,306.0 388.6,306.0 389.9,306.1 391.2,306.1 392.5,306.2 393.8,306.2 395.1,306.3 396.4,306.3 397.7,306.4" fill="none" stroke="#d81818" stroke-width="1.5" stroke-linejoin="round"/>
<g font-size="10.0" font-weight="bold" text-anchor="middle" fill="#000"><text x="86.3" y="314.1">6</text><text x="102.0" y="314.1">6</text><text x="117.6" y="314.1">6</text><text x="133.2" y="314.1">6</text><text x="148.9" y="314.1">6</text><text x="164.5" y="314.1">6</text><text x="180.1" y="305.4">6</text><text x="195.8" y="29.0">6</text><text x="211.4" y="181.6">6</text><text x="227.0" y="248.5">6</text><text x="242.7" y="274.8">6</text><text x="258.3" y="287.7">6</text><text x="273.9" y="295.0">6</text><text x="289.6" y="299.7">6</text><text x="305.2" y="302.8">6</text><text x="320.8" y="305.0">6</text><text x="336.5" y="306.6">6</text><text x="352.1" y="307.8">6</text><text x="367.7" y="308.8">6</text><text x="383.4" y="309.5">6</text></g>
<polyline clip-path="url(#c)" points="72.0,310.4 73.3,310.4 74.6,310.4 75.9,310.4 77.2,310.4 78.5,310.4 79.8,310.4 81.1,310.4 82.4,310.4 83.7,310.4 85.0,310.4 86.3,310.4 87.6,310.4 88.9,310.4 90.2,310.4 91.5,310.4 92.8,310.4 94.1,310.4 95.5,310.4 96.8,310.4 98.1,310.4 99.4,310.4 100.7,310.4 102.0,310.4 103.3,310.4 104.6,310.4 105.9,310.4 107.2,310.4 108.5,310.4 109.8,310.4 111.1,310.4 112.4,310.4 113.7,310.4 115.0,310.4 116.3,310.4 117.6,310.4 118.9,310.4 120.2,310.4 121.5,310.4 122.8,310.4 124.1,310.4 125.4,310.4 126.7,310.4 128.0,310.4 129.3,310.4 130.6,310.4 131.9,310.4 133.2,310.4 134.5,310.4 135.8,310.4 137.1,310.4 138.4,310.4 139.7,310.4 141.0,310.4 142.4,310.4 143.7,310.4 145.0,310.4 146.3,310.4 147.6,310.4 148.9,310.4 150.2,310.4 151.5,310.4 152.8,310.4 154.1,310.4 155.4,310.4 156.7,310.4 158.0,310.4 159.3,310.4 160.6,310.4 161.9,310.4 163.2,310.4 164.5,310.4 165.8,310.4 167.1,310.4 168.4,310.4 169.7,310.4 171.0,310.4 172.3,310.4 173.6,310.4 174.9,310.4 176.2,310.4 177.5,310.4 178.8,310.4 180.1,310.4 181.4,310.4 182.7,310.4 184.0,310.4 185.3,310.2 186.6,309.5 187.9,307.3 189.3,300.9 190.6,285.0 191.9,252.0 193.2,197.1 194.5,127.9 195.8,66.0 197.1,30.8 198.4,25.0 199.7,39.4 201.0,63.4 202.3,89.9 203.6,115.1 204.9,137.8 206.2,157.5 207.5,174.4 208.8,188.8 210.1,201.1 211.4,211.7 212.7,220.8 214.0,228.7 215.3,235.5 216.6,241.5 217.9,246.8 219.2,251.5 220.5,255.6 221.8,259.3 223.1,262.6 224.4,265.6 225.7,268.3 227.0,270.8 228.3,273.0 229.6,275.0 230.9,276.9 232.2,278.6 233.5,280.2 234.8,281.6 236.2,283.0 237.5,284.2 238.8,285.4 240.1,286.4 241.4,287.5 242.7,288.4 244.0,289.3 245.3,290.1 246.6,290.9 247.9,291.6 249.2,292.3 250.5,292.9 251.8,293.5 253.1,294.1 254.4,294.7 255.7,295.2 257.0,295.7 258.3,296.2 259.6,296.6 260.9,297.0 262.2,297.4 263.5,297.8 264.8,298.2 266.1,298.5 267.4,298.9 268.7,299.2 270.0,299.5 271.3,299.8 272.6,300.1 273.9,300.3 275.2,300.6 276.5,300.8 277.8,301.1 279.1,301.3 280.4,301.5 281.8,301.8 283.1,302.0 284.4,302.2 285.7,302.3 287.0,302.5 288.3,302.7 289.6,302.9 290.9,303.0 292.2,303.2 293.5,303.4 294.8,303.5 296.1,303.7 297.4,303.8 298.7,303.9 300.0,304.1 301.3,304.2 302.6,304.3 303.9,304.4 305.2,304.6 306.5,304.7 307.8,304.8 309.1,304.9 310.4,305.0 311.7,305.1 313.0,305.2 314.3,305.3 315.6,305.4 316.9,305.5 318.2,305.6 319.5,305.6 320.8,305.7 322.1,305.8 323.4,305.9 324.7,306.0 326.0,306.0 327.3,306.1 328.7,306.2 330.0,306.3 331.3,306.3 332.6,306.4 333.9,306.4 335.2,306.5 336.5,306.6 337.8,306.6 339.1,306.7 340.4,306.8 341.7,306.8 343.0,306.9 344.3,306.9 345.6,307.0 346.9,307.0 348.2,307.1 349.5,307.1 350.8,307.2 352.1,307.2 353.4,307.3 354.7,307.3 356.0,307.3 357.3,307.4 358.6,307.4 359.9,307.5 361.2,307.5 362.5,307.6 363.8,307.6 365.1,307.6 366.4,307.7 367.7,307.7 369.0,307.7 370.3,307.8 371.6,307.8 372.9,307.8 374.2,307.9 375.6,307.9 376.9,307.9 378.2,308.0 379.5,308.0 380.8,308.0 382.1,308.1 383.4,308.1 384.7,308.1 386.0,308.1 387.3,308.2 388.6,308.2 389.9,308.2 391.2,308.3 392.5,308.3 393.8,308.3 395.1,308.3 396.4,308.4 397.7,308.4" fill="none" stroke="#20ff80" stroke-width="1.5" stroke-linejoin="round"/>
<g font-size="10.0" font-weight="bold" text-anchor="middle" fill="#000"><text x="86.3" y="314.1">7</text><text x="102.0" y="314.1">7</text><text x="117.6" y="314.1">7</text><text x="133.2" y="314.1">7</text><text x="148.9" y="314.1">7</text><text x="164.5" y="314.1">7</text><text x="180.1" y="314.1">7</text><text x="195.8" y="69.7">7</text><text x="211.4" y="215.4">7</text><text x="227.0" y="274.5">7</text><text x="242.7" y="292.1">7</text><text x="258.3" y="299.9">7</text><text x="273.9" y="304.0">7</text><text x="289.6" y="306.6">7</text><text x="305.2" y="308.3">7</text><text x="320.8" y="309.4">7</text><text x="336.5" y="310.3">7</text><text x="352.1" y="310.9">7</text><text x="367.7" y="311.4">7</text><text x="383.4" y="311.8">7</text></g>
<polyline clip-path="url(#c)" points="72.0,310.4 73.3,310.4 74.6,310.4 75.9,310.4 77.2,310.4 78.5,310.4 79.8,310.4 81.1,310.4 82.4,310.4 83.7,310.4 85.0,310.4 86.3,310.4 87.6,310.4 88.9,310.4 90.2,310.4 91.5,310.4 92.8,310.4 94.1,310.4 95.5,310.4 96.8,310.4 98.1,310.4 99.4,310.4 100.7,310.4 102.0,310.4 103.3,310.4 104.6,310.4 105.9,310.4 107.2,310.4 108.5,310.4 109.8,310.4 111.1,310.4 112.4,310.4 113.7,310.4 115.0,310.4 116.3,310.4 117.6,310.4 118.9,310.4 120.2,310.4 121.5,310.4 122.8,310.4 124.1,310.4 125.4,310.4 126.7,310.4 128.0,310.4 129.3,310.4 130.6,310.4 131.9,310.4 133.2,310.4 134.5,310.4 135.8,310.4 137.1,310.4 138.4,310.4 139.7,310.4 141.0,310.4 142.4,310.4 143.7,310.4 145.0,310.4 146.3,310.4 147.6,310.4 148.9,310.4 150.2,310.4 151.5,310.4 152.8,310.4 154.1,310.4 155.4,310.4 156.7,310.4 158.0,310.4 159.3,310.4 160.6,310.4 161.9,310.4 163.2,310.4 164.5,310.4 165.8,310.4 167.1,310.4 168.4,310.4 169.7,310.4 171.0,310.4 172.3,310.4 173.6,310.4 174.9,310.4 176.2,310.4 177.5,310.4 178.8,310.4 180.1,310.4 181.4,310.4 182.7,310.4 184.0,310.4 185.3,310.4 186.6,310.4 187.9,310.4 189.3,310.4 190.6,310.4 191.9,310.3 193.2,309.2 194.5,301.5 195.8,266.9 197.1,176.4 198.4,66.6 199.7,24.0 201.0,46.7 202.3,89.9 203.6,130.5 204.9,163.3 206.2,188.6 207.5,208.0 208.8,223.1 210.1,235.1 211.4,244.6 212.7,252.3 214.0,258.7 215.3,264.0 216.6,268.5 217.9,272.3 219.2,275.6 220.5,278.4 221.8,280.9 223.1,283.1 224.4,285.0 225.7,286.7 227.0,288.3 228.3,289.6 229.6,290.9 230.9,292.0 232.2,293.0 233.5,294.0 234.8,294.8 236.2,295.6 237.5,296.3 238.8,297.0 240.1,297.6 241.4,298.2 242.7,298.7 244.0,299.2 245.3,299.7 246.6,300.1 247.9,300.5 249.2,300.9 250.5,301.2 251.8,301.6 253.1,301.9 254.4,302.2 255.7,302.5 257.0,302.7 258.3,303.0 259.6,303.2 260.9,303.5 262.2,303.7 263.5,303.9 264.8,304.1 266.1,304.3 267.4,304.5 268.7,304.6 270.0,304.8 271.3,304.9 272.6,305.1 273.9,305.2 275.2,305.4 276.5,305.5 277.8,305.6 279.1,305.8 280.4,305.9 281.8,306.0 283.1,306.1 284.4,306.2 285.7,306.3 287.0,306.4 288.3,306.5 289.6,306.6 290.9,306.7 292.2,306.7 293.5,306.8 294.8,306.9 296.1,307.0 297.4,307.1 298.7,307.1 300.0,307.2 301.3,307.3 302.6,307.3 303.9,307.4 305.2,307.4 306.5,307.5 307.8,307.6 309.1,307.6 310.4,307.7 311.7,307.7 313.0,307.8 314.3,307.8 315.6,307.9 316.9,307.9 318.2,308.0 319.5,308.0 320.8,308.1 322.1,308.1 323.4,308.1 324.7,308.2 326.0,308.2 327.3,308.2 328.7,308.3 330.0,308.3 331.3,308.4 332.6,308.4 333.9,308.4 335.2,308.5 336.5,308.5 337.8,308.5 339.1,308.5 340.4,308.6 341.7,308.6 343.0,308.6 344.3,308.7 345.6,308.7 346.9,308.7 348.2,308.7 349.5,308.8 350.8,308.8 352.1,308.8 353.4,308.8 354.7,308.9 356.0,308.9 357.3,308.9 358.6,308.9 359.9,308.9 361.2,309.0 362.5,309.0 363.8,309.0 365.1,309.0 366.4,309.0 367.7,309.1 369.0,309.1 370.3,309.1 371.6,309.1 372.9,309.1 374.2,309.2 375.6,309.2 376.9,309.2 378.2,309.2 379.5,309.2 380.8,309.2 382.1,309.2 383.4,309.3 384.7,309.3 386.0,309.3 387.3,309.3 388.6,309.3 389.9,309.3 391.2,309.3 392.5,309.4 393.8,309.4 395.1,309.4 396.4,309.4 397.7,309.4" fill="none" stroke="#5252f8" stroke-width="1.5" stroke-linejoin="round"/>
<g font-size="10.0" font-weight="bold" text-anchor="middle" fill="#000"><text x="86.3" y="314.1">8</text><text x="102.0" y="314.1">8</text><text x="117.6" y="314.1">8</text><text x="133.2" y="314.1">8</text><text x="148.9" y="314.1">8</text><text x="164.5" y="314.1">8</text><text x="180.1" y="314.1">8</text><text x="195.8" y="270.6">8</text><text x="211.4" y="248.3">8</text><text x="227.0" y="292.0">8</text><text x="242.7" y="302.4">8</text><text x="258.3" y="306.7">8</text><text x="273.9" y="308.9">8</text><text x="289.6" y="310.3">8</text><text x="305.2" y="311.1">8</text><text x="320.8" y="311.8">8</text><text x="336.5" y="312.2">8</text><text x="352.1" y="312.5">8</text><text x="367.7" y="312.8">8</text><text x="383.4" y="313.0">8</text></g>
<polyline clip-path="url(#c)" points="72.0,310.4 73.3,310.4 74.6,310.4 75.9,310.4 77.2,310.4 78.5,310.4 79.8,310.4 81.1,310.4 82.4,310.4 83.7,310.4 85.0,310.4 86.3,310.4 87.6,310.4 88.9,310.4 90.2,310.4 91.5,310.4 92.8,310.4 94.1,310.4 95.5,310.4 96.8,310.4 98.1,310.4 99.4,310.4 100.7,310.4 102.0,310.4 103.3,310.4 104.6,310.4 105.9,310.4 107.2,310.4 108.5,310.4 109.8,310.4 111.1,310.4 112.4,310.4 113.7,310.4 115.0,310.4 116.3,310.4 117.6,310.4 118.9,310.4 120.2,310.4 121.5,310.4 122.8,310.4 124.1,310.4 125.4,310.4 126.7,310.4 128.0,310.4 129.3,310.4 130.6,310.4 131.9,310.4 133.2,310.4 134.5,310.4 135.8,310.4 137.1,310.4 138.4,310.4 139.7,310.4 141.0,310.4 142.4,310.4 143.7,310.4 145.0,310.4 146.3,310.4 147.6,310.4 148.9,310.4 150.2,310.4 151.5,310.4 152.8,310.4 154.1,310.4 155.4,310.4 156.7,310.4 158.0,310.4 159.3,310.4 160.6,310.4 161.9,310.4 163.2,310.4 164.5,310.4 165.8,310.4 167.1,310.4 168.4,310.4 169.7,310.4 171.0,310.4 172.3,310.4 173.6,310.4 174.9,310.4 176.2,310.4 177.5,310.4 178.8,310.4 180.1,310.4 181.4,310.4 182.7,310.4 184.0,310.4 185.3,310.4 186.6,310.4 187.9,310.4 189.3,310.4 190.6,310.4 191.9,310.4 193.2,310.4 194.5,310.4 195.8,310.4 197.1,310.4 198.4,310.4 199.7,310.4 201.0,310.4 202.3,89.9 203.6,305.0 204.9,308.3 206.2,309.2 207.5,309.6 208.8,309.8 210.1,310.0 211.4,310.1 212.7,310.1 214.0,310.2 215.3,310.2 216.6,310.2 217.9,310.3 219.2,310.3 220.5,310.3 221.8,310.3 223.1,310.3 224.4,310.3 225.7,310.3 227.0,310.4 228.3,310.4 229.6,310.4 230.9,310.4 232.2,310.4 233.5,310.4 234.8,310.4 236.2,310.4 237.5,310.4 238.8,310.4 240.1,310.4 241.4,310.4 242.7,310.4 244.0,310.4 245.3,310.4 246.6,310.4 247.9,310.4 249.2,310.4 250.5,310.4 251.8,310.4 253.1,310.4 254.4,310.4 255.7,310.4 257.0,310.4 258.3,310.4 259.6,310.4 260.9,310.4 262.2,310.4 263.5,310.4 264.8,310.4 266.1,310.4 267.4,310.4 268.7,310.4 270.0,310.4 271.3,310.4 272.6,310.4 273.9,310.4 275.2,310.4 276.5,310.4 277.8,310.4 279.1,310.4 280.4,310.4 281.8,310.4 283.1,310.4 284.4,310.4 285.7,310.4 287.0,310.4 288.3,310.4 289.6,310.4 290.9,310.4 292.2,310.4 293.5,310.4 294.8,310.4 296.1,310.4 297.4,310.4 298.7,310.4 300.0,310.4 301.3,310.4 302.6,310.4 303.9,310.4 305.2,310.4 306.5,310.4 307.8,310.4 309.1,310.4 310.4,310.4 311.7,310.4 313.0,310.4 314.3,310.4 315.6,310.4 316.9,310.4 318.2,310.4 319.5,310.4 320.8,310.4 322.1,310.4 323.4,310.4 324.7,310.4 326.0,310.4 327.3,310.4 328.7,310.4 330.0,310.4 331.3,310.4 332.6,310.4 333.9,310.4 335.2,310.4 336.5,310.4 337.8,310.4 339.1,310.4 340.4,310.4 341.7,310.4 343.0,310.4 344.3,310.4 345.6,310.4 346.9,310.4 348.2,310.4 349.5,310.4 350.8,310.4 352.1,310.4 353.4,310.4 354.7,310.4 356.0,310.4 357.3,310.4 358.6,310.4 359.9,310.4 361.2,310.4 362.5,310.4 363.8,310.4 365.1,310.4 366.4,310.4 367.7,310.4 369.0,310.4 370.3,310.4 371.6,310.4 372.9,310.4 374.2,310.4 375.6,310.4 376.9,310.4 378.2,310.4 379.5,310.4 380.8,310.4 382.1,310.4 383.4,310.4 384.7,310.4 386.0,310.4 387.3,310.4 388.6,310.4 389.9,310.4 391.2,310.4 392.5,310.4 393.8,310.4 395.1,310.4 396.4,310.4 397.7,310.4" fill="none" stroke="#000000" stroke-width="1.6" stroke-linejoin="round"/>
</g>
<g><path d="M72.0 310.45H79.6" stroke="#000" stroke-width="1.4"/><path d="M72.0 295.56H76.6" stroke="#333" stroke-width="0.7"/><path d="M72.0 280.67H79.6" stroke="#000" stroke-width="1.4"/><path d="M72.0 265.78H76.6" stroke="#333" stroke-width="0.7"/><path d="M72.0 250.89H79.6" stroke="#000" stroke-width="1.4"/><path d="M72.0 236.00H76.6" stroke="#333" stroke-width="0.7"/><path d="M72.0 221.11H79.6" stroke="#000" stroke-width="1.4"/><path d="M72.0 206.22H76.6" stroke="#333" stroke-width="0.7"/><path d="M72.0 191.33H79.6" stroke="#000" stroke-width="1.4"/><path d="M72.0 176.44H76.6" stroke="#333" stroke-width="0.7"/><path d="M72.0 161.55H79.6" stroke="#000" stroke-width="1.4"/><path d="M72.0 146.66H76.6" stroke="#333" stroke-width="0.7"/><path d="M72.0 131.77H79.6" stroke="#000" stroke-width="1.4"/><path d="M72.0 116.88H76.6" stroke="#333" stroke-width="0.7"/><path d="M72.0 101.99H79.6" stroke="#000" stroke-width="1.4"/><path d="M72.0 87.10H76.6" stroke="#333" stroke-width="0.7"/><path d="M72.0 72.21H79.6" stroke="#000" stroke-width="1.4"/><path d="M72.0 57.32H76.6" stroke="#333" stroke-width="0.7"/><path d="M72.0 42.43H79.6" stroke="#000" stroke-width="1.4"/><path d="M72.0 27.54H76.6" stroke="#333" stroke-width="0.7"/><path d="M72.0 12.65H79.6" stroke="#000" stroke-width="1.4"/><path d="M72.00 310.4V302.8" stroke="#000" stroke-width="1.4"/><path d="M104.57 310.4V305.8" stroke="#333" stroke-width="0.7"/><path d="M137.14 310.4V302.8" stroke="#000" stroke-width="1.4"/><path d="M169.71 310.4V305.8" stroke="#333" stroke-width="0.7"/><path d="M202.28 310.4V302.8" stroke="#000" stroke-width="1.4"/><path d="M234.85 310.4V305.8" stroke="#333" stroke-width="0.7"/><path d="M267.42 310.4V302.8" stroke="#000" stroke-width="1.4"/><path d="M299.99 310.4V305.8" stroke="#333" stroke-width="0.7"/><path d="M332.56 310.4V302.8" stroke="#000" stroke-width="1.4"/><path d="M365.13 310.4V305.8" stroke="#333" stroke-width="0.7"/><path d="M397.70 310.4V302.8" stroke="#000" stroke-width="1.4"/></g>
<rect x="72.0" y="12.7" width="325.7" height="297.8" fill="none" stroke="#000" stroke-width="1.7"/>
<g fill="#e8e41e" stroke="#000" stroke-width="1.25"><circle cx="86.3" cy="310.6" r="3.15"/><circle cx="102.0" cy="310.6" r="3.15"/><circle cx="117.6" cy="310.6" r="3.15"/><circle cx="133.2" cy="310.6" r="3.15"/><circle cx="148.9" cy="310.6" r="3.15"/><circle cx="164.5" cy="310.6" r="3.15"/><circle cx="180.1" cy="310.6" r="3.15"/><circle cx="195.8" cy="310.6" r="3.15"/><circle cx="211.4" cy="310.2" r="3.15"/><circle cx="227.0" cy="310.5" r="3.15"/><circle cx="242.7" cy="310.5" r="3.15"/><circle cx="258.3" cy="310.5" r="3.15"/><circle cx="273.9" cy="310.5" r="3.15"/><circle cx="289.6" cy="310.5" r="3.15"/><circle cx="305.2" cy="310.5" r="3.15"/><circle cx="320.8" cy="310.5" r="3.15"/><circle cx="336.5" cy="310.5" r="3.15"/><circle cx="352.1" cy="310.5" r="3.15"/><circle cx="367.7" cy="310.5" r="3.15"/><circle cx="383.4" cy="310.5" r="3.15"/></g>
<path d="M72.0 310.55H397.7" stroke="#000" stroke-width="1.1"/>
<g font-size="11" text-anchor="end" fill="#000" letter-spacing="0.15"><text x="67.0" y="314.3">0</text><text x="60.63" y="284.6">0.0</text><path transform="translate(60.78 284.57) scale(11.00 -11.00)" d="M.385 0H.297V.56Q.265 .53 .213 .5Q.162 .47 .12 .454V.539Q.195 .574 .25 .624Q.306 .674 .329 .716H.385Z"/><text x="67.0" y="254.8">0.02</text><text x="67.0" y="225.0">0.03</text><text x="67.0" y="195.2">0.04</text><text x="67.0" y="165.4">0.05</text><text x="67.0" y="135.7">0.06</text><text x="67.0" y="105.9">0.07</text><text x="67.0" y="76.1">0.08</text><text x="67.0" y="46.3">0.09</text><text x="60.63" y="16.5">0.</text><path transform="translate(60.78 16.55) scale(11.00 -11.00)" d="M.385 0H.297V.56Q.265 .53 .213 .5Q.162 .47 .12 .454V.539Q.195 .574 .25 .624Q.306 .674 .329 .716H.385Z"/></g>
<g font-size="11" text-anchor="middle" fill="#000" letter-spacing="0.15"><text x="72.0" y="325.75">0</text><text x="137.1" y="325.75">0.5</text><path transform="translate(199.22 325.75) scale(11.00 -11.00)" d="M.385 0H.297V.56Q.265 .53 .213 .5Q.162 .47 .12 .454V.539Q.195 .574 .25 .624Q.306 .674 .329 .716H.385Z"/><path transform="translate(259.62 325.75) scale(11.00 -11.00)" d="M.385 0H.297V.56Q.265 .53 .213 .5Q.162 .47 .12 .454V.539Q.195 .574 .25 .624Q.306 .674 .329 .716H.385Z"/><text x="265.89" y="325.75" text-anchor="start">.5</text><text x="332.6" y="325.75">2</text><text x="397.7" y="325.75">2.5</text></g>
<text class="s" x="234.7" y="343.8" font-size="15.5" text-anchor="middle">D</text>
<g transform="translate(30,191.2) rotate(-90)"><text class="s" x="0" y="0" font-size="16">dC</text><text class="s" x="18.4" y="3.8" font-size="9.5">13</text><text class="s" x="32.3" y="0" font-size="16">/dD</text></g>
<text class="r" x="217.2" y="53.6" font-size="16">Δ=</text><text class="r" x="252" y="53.6" font-size="16">2</text>
<path d="M239 50.3L241.2 49.2" fill="none" stroke="#222" stroke-width="0.7"/><path d="M241.2 49.2L246.9 59.3" fill="none" stroke="#222" stroke-width="1.2"/><path d="M246.9 59.5L247.6 35.4H268.2" fill="none" stroke="#333" stroke-width="0.7"/>
<path d="M281.2 28.05H325.2" stroke="#e01a1a" stroke-width="1.5"/><text x="302.9" y="31.80" font-size="10.0" font-weight="bold" text-anchor="middle">0</text><text class="s" x="332" y="31.35" font-size="9.6">0-th Step RG</text>
<path d="M281.2 39.67H325.2" stroke="#10d010" stroke-width="1.5"/><path transform="translate(300.12 43.42) scale(10.00 -10.00)" d="M.44 0H.3V.525Q.22 .455 .075 .405V.53Q.15 .555 .235 .62Q.32 .69 .35 .716H.44Z"/><text class="s" x="332" y="42.97" font-size="9.6">1-th Step RG</text>
<path d="M281.2 51.29H325.2" stroke="#4040fc" stroke-width="1.5"/><text x="302.9" y="55.04" font-size="10.0" font-weight="bold" text-anchor="middle">2</text><text class="s" x="332" y="54.59" font-size="9.6">2-th Step RG</text>
<path d="M281.2 62.91H325.2" stroke="#ff9434" stroke-width="1.5"/><text x="302.9" y="66.66" font-size="10.0" font-weight="bold" text-anchor="middle">3</text><text class="s" x="332" y="66.21" font-size="9.6">3-th Step RG</text>
<path d="M281.2 74.53H325.2" stroke="#1a88ff" stroke-width="1.5"/><text x="302.9" y="78.28" font-size="10.0" font-weight="bold" text-anchor="middle">4</text><text class="s" x="332" y="77.83" font-size="9.6">4-th Step RG</text>
<path d="M281.2 86.15H325.2" stroke="#ff30ff" stroke-width="1.5"/><text x="302.9" y="89.90" font-size="10.0" font-weight="bold" text-anchor="middle">5</text><text class="s" x="332" y="89.45" font-size="9.6">5-th Step RG</text>
<path d="M281.2 97.77H325.2" stroke="#d81818" stroke-width="1.5"/><text x="302.9" y="101.52" font-size="10.0" font-weight="bold" text-anchor="middle">6</text><text class="s" x="332" y="101.07" font-size="9.6">6-th Step RG</text>
<path d="M281.2 109.39H325.2" stroke="#20ff80" stroke-width="1.5"/><text x="302.9" y="113.14" font-size="10.0" font-weight="bold" text-anchor="middle">7</text><text class="s" x="332" y="112.69" font-size="9.6">7-th Step RG</text>
<path d="M281.2 121.01H325.2" stroke="#5252f8" stroke-width="1.5"/><text x="302.9" y="124.76" font-size="10.0" font-weight="bold" text-anchor="middle">8</text><text class="s" x="332" y="124.31" font-size="9.6">8-th Step RG</text>
<path d="M281.2 132.63H325.2" stroke="#000000" stroke-width="1.2"/><circle cx="303" cy="132.63" r="3.15" fill="#f0ec22" stroke="#000" stroke-width="1.25"/><text class="s" x="332" y="135.93" font-size="9.6">15-th Step RG</text>
</svg>
</body></html>
